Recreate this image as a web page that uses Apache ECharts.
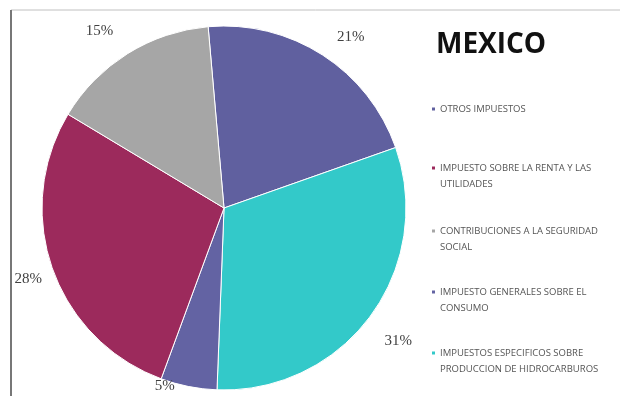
<!DOCTYPE html>
<html>
<head>
<meta charset="utf-8">
<script src="https://cdn.jsdelivr.net/npm/echarts@6/dist/echarts.min.js"></script>
<style>html,body{margin:0;padding:0;background:#fff}#c{width:620px;height:396px}</style>
</head>
<body>
<div id="c"></div>
<script>
// slices in clockwise order, starting near 12 o'clock
const sliceNames = [
  'OTROS IMPUESTOS',
  'IMPUESTOS ESPECIFICOS SOBRE\nPRODUCCION DE HIDROCARBUROS',
  'IMPUESTO GENERALES SOBRE EL\nCONSUMO',
  'IMPUESTO SOBRE LA RENTA Y LAS\nUTILIDADES',
  'CONTRIBUCIONES A LA SEGURIDAD\nSOCIAL'
];
const sliceValues = [21, 31, 5, 28, 15];
const sliceColors = ['#60609f', '#33c9c9', '#6363a3', '#9c2a5c', '#a6a6a6'];
// legend order as shown
const legendOrder = [
  'OTROS IMPUESTOS',
  'IMPUESTO SOBRE LA RENTA Y LAS\nUTILIDADES',
  'CONTRIBUCIONES A LA SEGURIDAD\nSOCIAL',
  'IMPUESTO GENERALES SOBRE EL\nCONSUMO',
  'IMPUESTOS ESPECIFICOS SOBRE\nPRODUCCION DE HIDROCARBUROS'
];
const titleText = 'MEXICO';

// layout (not data): legend block tops and label nudges
const legendTops = [96, 155, 218, 279, 340];
const labelNudge = [[0, -10], [-3, 19], [-3, -10], [8, 7], [0, -14]];

const chart = echarts.init(document.getElementById('c'));
const iconPath = 'path://M0,0H5V5H0Z M0,21H0.01V21.01H0Z';
const legends = legendOrder.map((n, i) => {
  const two = n.indexOf('\n') >= 0;
  return {
    data: [n],
    left: 425,
    top: legendTops[i],
    orient: 'vertical',
    itemWidth: 5,
    itemHeight: two ? 21 : 5,
    icon: two ? iconPath : 'rect',
    itemGap: 0,
    selectedMode: false,
    textStyle: { fontSize: 9.5, color: '#555', fontFamily: 'Open Sans', lineHeight: 16, padding: [0, 0, 0, -1] }
  };
});

chart.setOption({
  animation: false,
  title: {
    text: titleText, left: 431, top: 26,
    textStyle: { fontSize: 28, fontWeight: 'bold', color: '#111', fontFamily: 'Open Sans' }
  },
  legend: legends,
  graphic: [
    { type: 'line', shape: { x1: 11, y1: 10, x2: 620, y2: 10 }, style: { stroke: '#c0c0c0', lineWidth: 1 } },
    { type: 'line', shape: { x1: 11, y1: 10, x2: 11, y2: 396 }, style: { stroke: '#777', lineWidth: 2 } }
  ],
  series: [{
    type: 'pie',
    center: [224, 208],
    radius: 182,
    startAngle: 95,
    clockwise: true,
    avoidLabelOverlap: false,
    itemStyle: { borderColor: '#fff', borderWidth: 1 },
    label: {
      show: true, position: 'outside',
      formatter: '{c}%',
      fontSize: 15, color: '#404040', fontFamily: 'Liberation Serif'
    },
    labelLine: { show: false, length: 10, length2: 4 },
    data: sliceNames.map((n, i) => ({
      name: n, value: sliceValues[i],
      itemStyle: { color: sliceColors[i] },
      label: { offset: labelNudge[i] }
    }))
  }]
});
</script>
</body>
</html>
